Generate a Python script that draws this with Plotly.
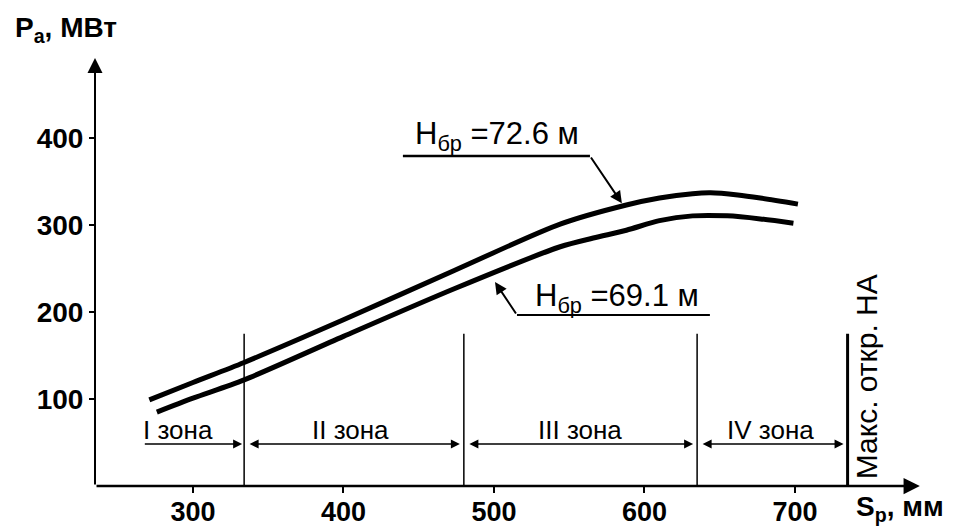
import plotly.graph_objects as go

# ---- data ----
upper_x = [271, 300, 334, 400, 474, 544, 588, 610, 632, 644, 662, 677, 702]
upper_y = [99, 119, 142, 191, 248, 301, 323, 331, 336, 337, 334.5, 331, 324]
lower_x = [276, 300, 334, 400, 474, 544, 566, 588, 610, 632, 655, 677, 699]
lower_y = [85, 101, 122, 172, 227, 275, 285, 294, 305, 310.5, 310.5, 307, 302]

x_ticks = [300, 400, 500, 600, 700]
y_ticks = [100, 200, 300, 400]

zone_bounds = [267, 334, 480, 635, 735]
zone_labels = ["I зона", "II зона", "III зона", "IV зона"]
zone_label_x = [290, 405, 557, 684]

label_upper = "H<sub>бр</sub> =72.6 м"
label_lower = "H<sub>бр</sub> =69.1 м"
y_title = "<b>P<sub>a</sub>, МВт</b>"
x_title = "<b>S<sub>p</sub>, мм</b>"
max_text = "Макс. откр. НА"

FONT = "Liberation Sans, Arial, sans-serif"

# page body has an 8px default margin: shrink the figure accordingly
OFF = 8
W, H = 957 - OFF, 526 - OFF
ML, MR, MT, MB = 95 - OFF, 0, 0, 40
PW, PH = W - ML - MR, H - MT - MB

X0, X1 = 234.9, 807.7
Y0, Y1 = 0, (486 - OFF) / 0.87


def px2paper(px, py):
    px -= OFF
    py -= OFF
    return (px - ML) / PW, (H - MB - py) / PH


fig = go.Figure()
for xs, ys in ((upper_x, upper_y), (lower_x, lower_y)):
    fig.add_trace(go.Scatter(x=xs, y=ys, mode="lines",
                             line=dict(color="black", width=5, shape="spline", smoothing=0.8),
                             hoverinfo="skip", showlegend=False))

shapes = []
for i, b in enumerate(zone_bounds[1:]):
    shapes.append(dict(type="line", xref="x", yref="y", x0=b, x1=b, y0=0, y1=175,
                       line=dict(color="black", width=3 if i == 3 else 1.5)))
shapes.append(dict(type="line", xref="x", yref="y", x0=439.5, x1=563.8, y0=379.3, y1=379.3,
                   line=dict(color="black", width=2.5)))
shapes.append(dict(type="line", xref="x", yref="y", x0=515.3, x1=643.5, y0=196.5, y1=196.5,
                   line=dict(color="black", width=2)))

ann = []


def arrow(x, y, ax, ay, **kw):
    d = dict(x=x, y=y, ax=ax, ay=ay, xref="x", yref="y", axref="x", ayref="y",
             showarrow=True, arrowhead=2, arrowcolor="black", text="", standoff=0)
    d.update(kw)
    ann.append(d)


# axes with arrows
arrow(783, 0, X0, 0, arrowsize=1.3, arrowwidth=2.5)
arrow(X0, 492, X0, 0, arrowsize=1.5, arrowwidth=2)
# zone dimension arrows
zy = 48.3
arrow(zone_bounds[1], zy, zone_bounds[0], zy, arrowsize=1.2, arrowwidth=1.5,
      arrowside="end", standoff=2)
for a, b in zip(zone_bounds[1:-1], zone_bounds[2:]):
    arrow(b, zy, a, zy, arrowsize=1.2, arrowwidth=1.5, arrowside="end+start",
          standoff=4, startstandoff=4)
for lx, t in zip(zone_label_x, zone_labels):
    ann.append(dict(x=lx, y=64, xref="x", yref="y", text=t, showarrow=False,
                    font=dict(family=FONT, size=26, color="black")))
# curve labels
ann.append(dict(x=446.2, y=402, xref="x", yref="y", text=label_upper, showarrow=False,
                xanchor="left", font=dict(family=FONT, size=31, color="black")))
arrow(585, 325, 563.8, 379.3, arrowsize=1.2, arrowwidth=2)
ann.append(dict(x=525.9, y=216, xref="x", yref="y", text=label_lower, showarrow=False,
                xanchor="left", font=dict(family=FONT, size=31, color="black")))
arrow(500.7, 234.5, 515.3, 196.5, arrowsize=1.2, arrowwidth=2)
# titles (paper coordinates, they sit outside the plot area)
tx, ty = px2paper(13, 30)
ann.append(dict(x=tx, y=ty, xref="paper", yref="paper", text=y_title, showarrow=False,
                xanchor="left", yanchor="middle",
                font=dict(family=FONT, size=28, color="black")))
tx, ty = px2paper(854, 509)
ann.append(dict(x=tx, y=ty, xref="paper", yref="paper", text=x_title, showarrow=False,
                xanchor="left", yanchor="middle",
                font=dict(family=FONT, size=28, color="black")))
ann.append(dict(x=747.2, y=126, xref="x", yref="y", text=max_text, showarrow=False,
                textangle=-90, font=dict(family=FONT, size=30, color="black")))

fig.update_layout(
    width=W, height=H,
    margin=dict(l=ML, r=MR, t=MT, b=MB, pad=0),
    paper_bgcolor="white", plot_bgcolor="white",
    shapes=shapes, annotations=ann, showlegend=False,
    xaxis=dict(range=[X0, X1], showgrid=False, zeroline=False, showline=False,
               automargin=False,
               tickvals=x_ticks, ticktext=[f"<b>{v}</b>" for v in x_ticks],
               ticks="outside", ticklen=6, tickwidth=2, tickcolor="black",
               ticklabelstandoff=-4,
               tickfont=dict(family=FONT, size=27, color="black")),
    yaxis=dict(range=[Y0, Y1], showgrid=False, zeroline=False, showline=False,
               automargin=False,
               tickvals=y_ticks, ticktext=[f"<b>{v}</b>" for v in y_ticks],
               ticks="outside", ticklen=5, tickwidth=2, tickcolor="black",
               tickfont=dict(family=FONT, size=28, color="black")),
)

fig.write_html("out.html")
